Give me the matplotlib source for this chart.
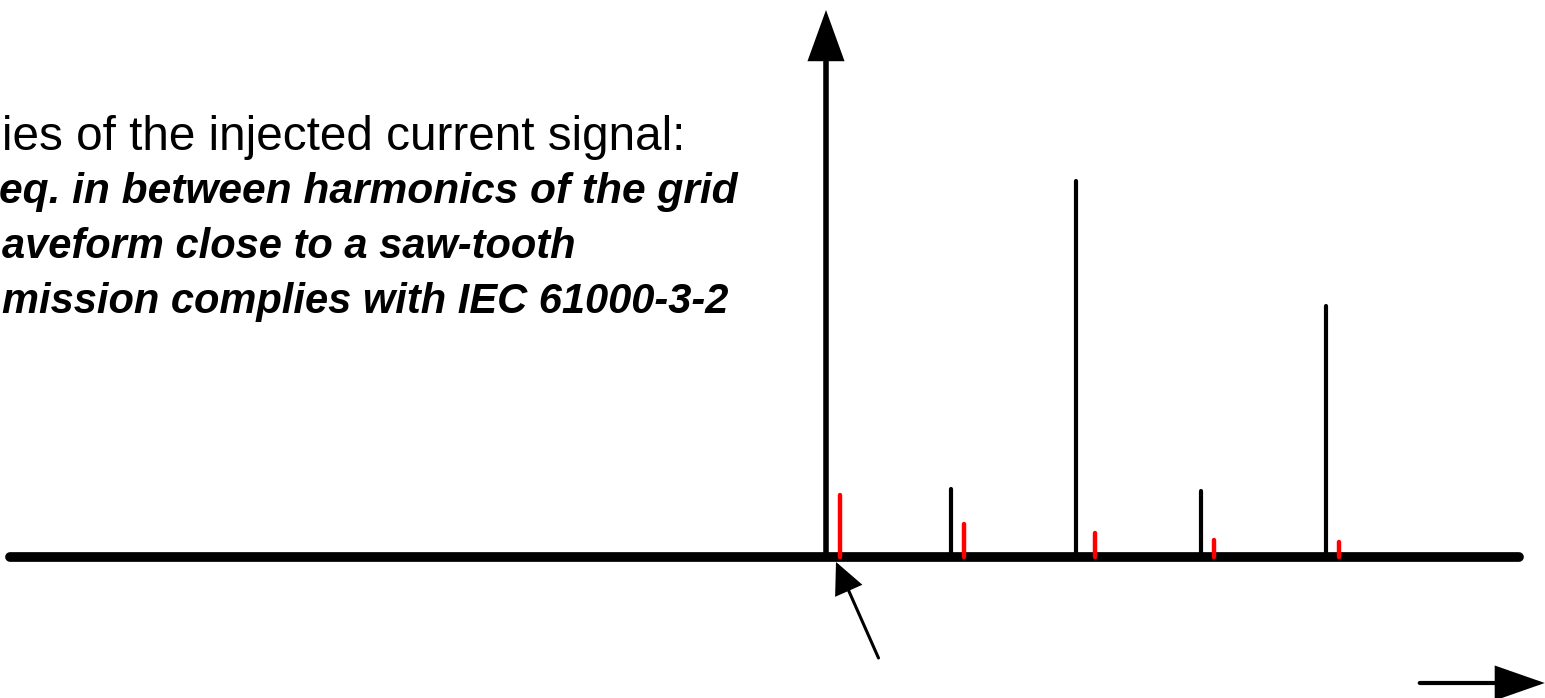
import matplotlib
matplotlib.use("Agg")
import matplotlib.pyplot as plt

# Spectre : harmoniques du réseau (noir) et courant injecté (rouge)
# fréquences en multiples du fondamental, amplitudes en unités arbitraires
grid_freq = [1, 2, 3, 4]
grid_amp = [0.68, 3.76, 0.66, 2.51]

inj_freq = [0.11, 1.10, 2.15, 3.10, 4.10]
inj_amp = [0.62, 0.33, 0.24, 0.17, 0.15]

texte = [
    "ies of the injected current signal:",
    "eq. in between harmonics of the grid",
    "aveform close to a saw-tooth",
    "mission complies with IEC 61000-3-2",
]

W, H = 1545, 698
fig = plt.figure(figsize=(W / 100, H / 100), dpi=100)
ax = fig.add_axes([0, 0, 1, 1])
ax.set_xlim(-6.608, 5.752)
ax.set_ylim(-1.41, 5.57)
ax.axis("off")

# axe des fréquences
ax.plot([-6.53, 5.54], [0, 0], color="black", lw=7, solid_capstyle="round", zorder=2)

# axe vertical avec flèche
ax.annotate("", xy=(0, 5.47), xytext=(0, 0),
            arrowprops=dict(arrowstyle="-|>,head_length=29,head_width=10.5",
                            mutation_scale=1, color="black", lw=4,
                            shrinkA=0, shrinkB=0, joinstyle="miter", capstyle="butt"))

# raies
ax.vlines(grid_freq, 0, grid_amp, color="black", lw=3, zorder=3, capstyle="round")
ax.vlines(inj_freq, 0, inj_amp, color="red", lw=3.2, zorder=4, capstyle="round")

# flèche vers la raie injectée
ax.annotate("", xy=(0.08, -0.05), xytext=(0.42, -1.01),
            arrowprops=dict(arrowstyle="-|>,head_length=19,head_width=9",
                            mutation_scale=1, color="black", lw=2.2,
                            shrinkA=0, shrinkB=0, joinstyle="miter"), zorder=5)

# flèche "f"
ax.annotate("", xy=(5.75, -1.26), xytext=(4.75, -1.26),
            arrowprops=dict(arrowstyle="-|>,head_length=30,head_width=10.5",
                            mutation_scale=1, color="black", lw=3,
                            shrinkA=0, shrinkB=0, joinstyle="miter"))

# texte (coupé à gauche)
fins = [685, 738, 575, 728]
lignes_y = [137, 192, 247, 302]
tailles = [34.3, 30.6, 30, 30]
for i, (t, xe, ye) in enumerate(zip(texte, fins, lignes_y)):
    if i == 0:
        fig.text(xe / W, 1 - ye / H, t, ha="right", va="center",
                 fontsize=tailles[i], family="Liberation Sans", color="black")
    else:
        fig.text(xe / W, 1 - ye / H, t, ha="right", va="center",
                 fontsize=tailles[i], fontstyle="italic", fontweight="bold",
                 family="Liberation Sans", color="black")

fig.savefig("out.png", dpi=100)
